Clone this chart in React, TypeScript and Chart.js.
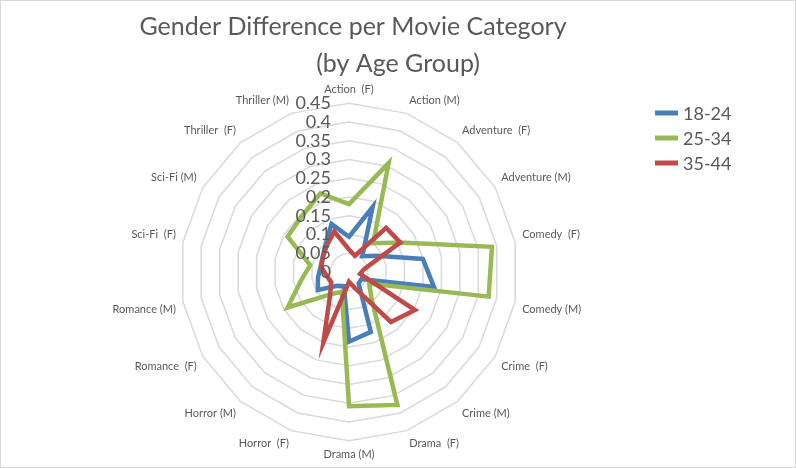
import { useEffect, useRef } from "react";
import { Chart, registerables, RadialLinearScale } from "chart.js";

Chart.register(...registerables);

const categories = [
  "Action  (F)",
  "Action (M)",
  "Adventure  (F)",
  "Adventure (M)",
  "Comedy  (F)",
  "Comedy (M)",
  "Crime  (F)",
  "Crime (M)",
  "Drama  (F)",
  "Drama (M)",
  "Horror  (F)",
  "Horror (M)",
  "Romance  (F)",
  "Romance (M)",
  "Sci-Fi  (F)",
  "Sci-Fi (M)",
  "Thriller  (F)",
  "Thriller (M)",
];

const age1824 = [0.094, 0.184, 0.055, 0.086, 0.2, 0.23, 0.038, 0.04, 0.17, 0.186, 0.04, 0.048, 0.096, 0.084, 0.077, 0.081, 0.097, 0.136];
const age2534 = [0.181, 0.309, 0.1, 0.157, 0.387, 0.378, 0.062, 0.094, 0.377, 0.358, 0.056, 0.078, 0.189, 0.13, 0.105, 0.189, 0.195, 0.223];
const age3544 = [0.06, 0.046, 0.154, 0.158, 0.04, 0.03, 0.203, 0.174, 0.045, 0.026, 0.2, 0.078, 0.055, 0.06, 0.075, 0.08, 0.092, 0.115];

const seriesNames = ["18-24", "25-34", "35-44"];
const tickLabels = ["0", "0.05", "0.1", "0.15", "0.2", "0.25", "0.3", "0.35", "0.4", "0.45"];
const titleLines = ["Gender Difference per Movie Category", "(by Age Group)"];

const BLUE = "#4A7EBB";
const GREEN = "#98B954";
const RED = "#BE4B48";
const TEXT = "#595959";
const FONT = "Lato, 'Open Sans', sans-serif";

// ticks, title and legend are painted by hand to match the Excel look
const overlay = {
  id: "overlay",
  afterDatasetsDraw(chart: Chart) {
    const { ctx } = chart;
    const r = chart.scales.r as RadialLinearScale;
    ctx.save();
    ctx.fillStyle = TEXT;
    ctx.font = `18px ${FONT}`;
    ctx.textAlign = "right";
    ctx.textBaseline = "middle";
    tickLabels.forEach((t) => {
      const d = r.getDistanceFromCenterForValue(Number(t));
      ctx.fillText(t, r.xCenter - 18, r.yCenter - d);
    });
    ctx.restore();
  },
  afterDraw(chart: Chart) {
    const { ctx } = chart;
    ctx.save();
    ctx.fillStyle = TEXT;
    ctx.textAlign = "center";
    ctx.textBaseline = "alphabetic";
    ctx.font = `25px ${FONT}`;
    ctx.fillText(titleLines[0], 352, 34);
    ctx.fillText(titleLines[1], 397, 71);

    ctx.textAlign = "left";
    ctx.textBaseline = "middle";
    ctx.font = `18px ${FONT}`;
    chart.data.datasets.forEach((ds, i) => {
      const y = 112 + i * 25;
      ctx.strokeStyle = ds.borderColor as string;
      ctx.lineWidth = 5;
      ctx.beginPath();
      ctx.moveTo(654, y);
      ctx.lineTo(677, y);
      ctx.stroke();
      ctx.fillText(ds.label as string, 682, y + 1);
    });
    ctx.restore();
  },
};

export default function App() {
  const canvasRef = useRef<HTMLCanvasElement>(null);

  useEffect(() => {
    if (!canvasRef.current) return;

    const line = (label: string, data: number[], color: string, order: number) => ({
      label,
      data,
      borderColor: color,
      backgroundColor: color,
      borderWidth: 4.5,
      pointRadius: 0,
      pointHoverRadius: 0,
      fill: false,
      tension: 0,
      order,
    });

    const chart = new Chart(canvasRef.current, {
      type: "radar",
      data: {
        labels: categories,
        datasets: [
          line(seriesNames[0], age1824, BLUE, 3),
          line(seriesNames[1], age2534, GREEN, 2),
          line(seriesNames[2], age3544, RED, 1),
        ],
      },
      options: {
        animation: false,
        responsive: true,
        maintainAspectRatio: false,
        layout: { padding: { top: 82, bottom: 6, left: 78, right: 176 } },
        plugins: {
          legend: { display: false },
          title: { display: false },
          tooltip: { enabled: false },
        },
        scales: {
          r: {
            min: 0,
            max: 0.45,
            ticks: { stepSize: 0.05, display: false },
            grid: { color: "#D9D9D9", lineWidth: 1.5 },
            angleLines: { display: false },
            pointLabels: {
              color: TEXT,
              padding: 7,
              font: { family: FONT, size: 11 },
            },
          },
        },
      },
      plugins: [overlay],
    });

    return () => chart.destroy();
  }, []);

  return (
    <div
      style={{
        position: "absolute",
        left: 0,
        top: 0,
        width: 796,
        height: 468,
        boxSizing: "border-box",
        border: "1px solid #D9D9D9",
        background: "#fff",
      }}
    >
      <canvas ref={canvasRef} role="img" aria-label="Radar chart of gender difference per movie category by age group." />
    </div>
  );
}
